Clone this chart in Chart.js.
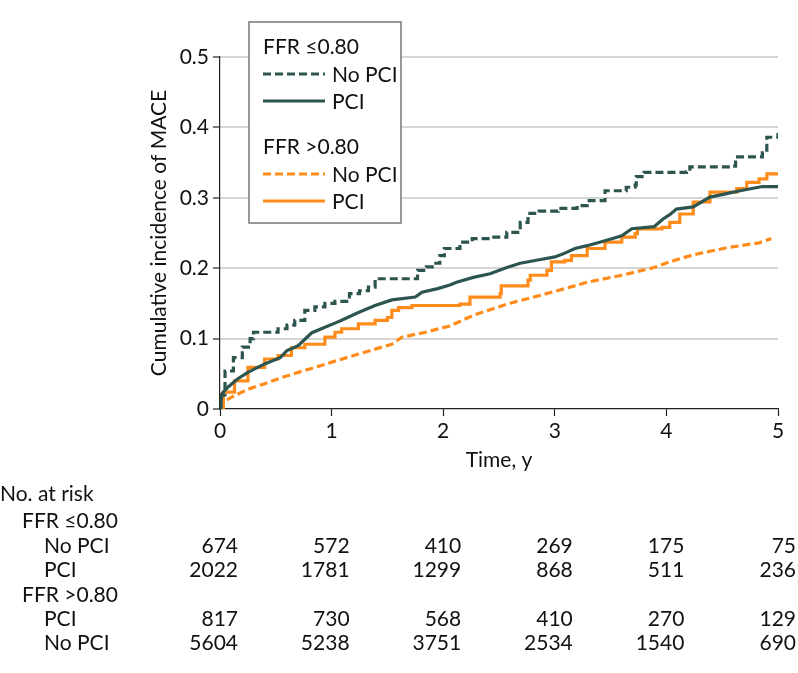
<!DOCTYPE html>
<html>
<head>
<meta charset="utf-8">
<script src="https://cdn.jsdelivr.net/npm/chart.js@4.4.1/dist/chart.umd.min.js"></script>
<style>
  body { margin: 0; background: #fff; }
  #wrap { position: relative; width: 798px; height: 673px; font-family: Lato, 'Open Sans', sans-serif; color: #111; }
  #chart { position: absolute; left: 0; top: 0; }
  .risk { position: absolute; font-size: 21px; line-height: 24px; white-space: nowrap; }
  .num { text-align: right; }
</style>
</head>
<body>
<div id="wrap">
  <canvas id="chart" width="798" height="673"></canvas>
</div>
<script>
const FONT = 'Lato, "Open Sans", sans-serif';
const FS = 21;
const GREEN = '#2d5550';
const ORANGE = '#ff8c1a';

// FFR <=0.80, no PCI
const lowNoPciT = [0, 0.01, 0.045, 0.12, 0.2, 0.27, 0.3, 0.52, 0.6, 0.67, 0.76, 0.85, 0.94, 1.03, 1.16, 1.25, 1.33, 1.39, 1.68, 1.77, 1.85, 1.92, 1.97, 2.01, 2.15, 2.26, 2.42, 2.57, 2.69, 2.76, 2.86, 3.03, 3.2, 3.29, 3.45, 3.6, 3.64, 3.72, 3.73, 3.8, 4.18, 4.21, 4.59, 4.62, 4.86, 4.9, 5.0];
const lowNoPciY = [0, 0.02, 0.054, 0.073, 0.088, 0.10, 0.109, 0.114, 0.119, 0.126, 0.14, 0.145, 0.15, 0.153, 0.164, 0.168, 0.173, 0.185, 0.185, 0.197, 0.202, 0.207, 0.218, 0.228, 0.237, 0.242, 0.244, 0.251, 0.265, 0.278, 0.281, 0.285, 0.289, 0.296, 0.31, 0.31, 0.315, 0.318, 0.33, 0.336, 0.337, 0.344, 0.345, 0.358, 0.364, 0.386, 0.392];

// FFR <=0.80, PCI
const lowPciT = [0, 0.02, 0.07, 0.16, 0.25, 0.4, 0.54, 0.6, 0.7, 0.82, 0.94, 1.03, 1.09, 1.24, 1.39, 1.54, 1.75, 1.81, 1.95, 2.06, 2.12, 2.27, 2.42, 2.57, 2.69, 2.86, 3.0, 3.07, 3.18, 3.29, 3.45, 3.6, 3.69, 3.89, 3.97, 4.03, 4.09, 4.24, 4.39, 4.54, 4.66, 4.86, 5.0];
const lowPciY = [0, 0.022, 0.031, 0.043, 0.052, 0.064, 0.073, 0.083, 0.09, 0.108, 0.116, 0.122, 0.126, 0.137, 0.147, 0.155, 0.159, 0.166, 0.171, 0.176, 0.18, 0.187, 0.192, 0.201, 0.207, 0.212, 0.216, 0.22, 0.228, 0.232, 0.239, 0.246, 0.256, 0.259, 0.27, 0.276, 0.284, 0.287, 0.301, 0.306, 0.31, 0.316, 0.316];

// FFR >0.80, PCI
const highPciT = [0, 0.03, 0.13, 0.25, 0.4, 0.52, 0.64, 0.76, 0.94, 1.03, 1.09, 1.24, 1.39, 1.5, 1.54, 1.6, 1.72, 2.15, 2.24, 2.51, 2.52, 2.76, 2.78, 2.93, 2.97, 3.09, 3.15, 3.29, 3.45, 3.6, 3.72, 3.74, 3.96, 4.03, 4.12, 4.24, 4.39, 4.63, 4.72, 4.83, 4.9, 5.0];
const highPciY = [0, 0.024, 0.04, 0.059, 0.071, 0.076, 0.087, 0.092, 0.102, 0.109, 0.114, 0.121, 0.126, 0.13, 0.14, 0.144, 0.147, 0.149, 0.159, 0.164, 0.175, 0.183, 0.19, 0.197, 0.209, 0.211, 0.218, 0.228, 0.237, 0.244, 0.249, 0.256, 0.258, 0.265, 0.277, 0.294, 0.308, 0.313, 0.322, 0.327, 0.334, 0.334];

// FFR >0.80, no PCI
const highNoPciT = [0, 0.03, 0.13, 0.25, 0.4, 0.56, 0.7, 0.85, 1.03, 1.24, 1.54, 1.63, 1.84, 2.06, 2.27, 2.57, 2.86, 3.09, 3.29, 3.6, 3.89, 4.03, 4.24, 4.54, 4.83, 4.94];
const highNoPciY = [0, 0.01, 0.019, 0.028, 0.036, 0.045, 0.052, 0.059, 0.068, 0.078, 0.092, 0.102, 0.109, 0.118, 0.133, 0.149, 0.161, 0.171, 0.18, 0.19, 0.201, 0.209, 0.219, 0.229, 0.236, 0.242];

// number at risk table
const riskYears = [0, 1, 2, 3, 4, 5];
const riskLowNoPci = [674, 572, 410, 269, 175, 75];
const riskLowPci = [2022, 1781, 1299, 868, 511, 236];
const riskHighPci = [817, 730, 568, 410, 270, 129];
const riskHighNoPci = [5604, 5238, 3751, 2534, 1540, 690];

const pts = (t, y) => t.map((v, i) => ({ x: v, y: y[i] }));

function line(label, t, y, color, dashed, stepped) {
    return {
        label: label,
        data: pts(t, y),
        borderColor: color,
        borderWidth: 3.2,
        borderDash: dashed ? [8, 4] : [],
        stepped: stepped,
        pointRadius: 0,
        fill: false
    };
}

// legend with two group headings, drawn on the canvas
const legendBox = {
    id: 'legendBox',
    afterDraw(chart) {
        const ctx = chart.ctx;
        const a = chart.chartArea;
        const x0 = a.left + 29, y0 = a.top - 35, w = 152, h = 201;
        ctx.save();
        ctx.fillStyle = '#fff';
        ctx.fillRect(x0, y0, w, h);
        ctx.strokeStyle = '#777';
        ctx.lineWidth = 1.5;
        ctx.strokeRect(x0, y0, w, h);
        ctx.font = FS + 'px ' + FONT;
        ctx.fillStyle = '#111';
        ctx.textBaseline = 'middle';
        const rows = [
            { y: 25, head: 'FFR \u22640.80' },
            { y: 52, color: GREEN, dash: [8, 4], text: 'No PCI' },
            { y: 79, color: GREEN, dash: [], text: 'PCI' },
            { y: 125, head: 'FFR >0.80' },
            { y: 152, color: ORANGE, dash: [8, 4], text: 'No PCI' },
            { y: 179, color: ORANGE, dash: [], text: 'PCI' }
        ];
        rows.forEach(r => {
            if (r.head) {
                ctx.fillText(r.head, x0 + 14, y0 + r.y);
                return;
            }
            ctx.beginPath();
            ctx.setLineDash(r.dash);
            ctx.strokeStyle = r.color;
            ctx.lineWidth = 3.2;
            ctx.moveTo(x0 + 14, y0 + r.y);
            ctx.lineTo(x0 + 76, y0 + r.y);
            ctx.stroke();
            ctx.setLineDash([]);
            ctx.fillText(r.text, x0 + 83, y0 + r.y + 1);
        });
        ctx.restore();
    }
};

const chart = new Chart(document.getElementById('chart'), {
    type: 'line',
    data: {
        datasets: [
            line('FFR \u22640.80 No PCI', lowNoPciT, lowNoPciY, GREEN, true, true),
            line('FFR \u22640.80 PCI', lowPciT, lowPciY, GREEN, false, false),
            line('FFR >0.80 No PCI', highNoPciT, highNoPciY, ORANGE, true, false),
            line('FFR >0.80 PCI', highPciT, highPciY, ORANGE, false, true)
        ]
    },
    options: {
        responsive: false,
        animation: false,
        layout: { padding: { left: 143, right: 20, top: 57, bottom: 198 } },
        plugins: { legend: { display: false }, tooltip: { enabled: false } },
        scales: {
            x: {
                type: 'linear',
                min: 0, max: 5,
                ticks: { stepSize: 1, color: '#111', font: { family: FONT, size: FS }, padding: 3 },
                grid: { drawOnChartArea: false, drawTicks: true, tickLength: 7, tickColor: '#222', tickWidth: 1.2 },
                border: { color: '#222', width: 1.2 },
                title: { display: true, text: 'Time, y', color: '#111', font: { family: FONT, size: FS }, padding: { top: 4, bottom: 2 } },
                afterFit: s => { s.height = 66; }
            },
            y: {
                min: 0, max: 0.5,
                ticks: {
                    stepSize: 0.1, color: '#111', font: { family: FONT, size: FS }, padding: 4,
                    callback: v => v === 0 ? '0' : v.toFixed(1)
                },
                grid: {
                    color: c => c.tick && c.tick.value === 0 ? 'rgba(0,0,0,0)' : '#d6d6d6',
                    lineWidth: 2, tickLength: 7, tickColor: '#222', tickWidth: 1.2
                },
                border: { color: '#222', width: 1.2 },
                title: { display: true, text: 'Cumulative incidence of MACE', color: '#111', font: { family: FONT, size: FS }, padding: { top: 4, bottom: 4 } },
                afterFit: s => { s.width = 77; }
            }
        }
    },
    plugins: [legendBox]
});

// number at risk rows, columns lined up with the x axis ticks
const wrap = document.getElementById('wrap');
const riskRows = [
    { label: 'No. at risk', indent: 0, y: 493 },
    { label: 'FFR \u22640.80', indent: 22, y: 520 },
    { label: 'No PCI', indent: 44, y: 545, vals: riskLowNoPci },
    { label: 'PCI', indent: 44, y: 569, vals: riskLowPci },
    { label: 'FFR >0.80', indent: 22, y: 594 },
    { label: 'PCI', indent: 44, y: 618, vals: riskHighPci },
    { label: 'No PCI', indent: 44, y: 642, vals: riskHighNoPci }
];
riskRows.forEach(r => {
    const d = document.createElement('div');
    d.className = 'risk';
    d.style.left = r.indent + 'px';
    d.style.top = (r.y - 12) + 'px';
    d.textContent = r.label;
    wrap.appendChild(d);
    if (!r.vals) return;
    r.vals.forEach((v, i) => {
        const n = document.createElement('div');
        n.className = 'risk num';
        const right = chart.scales.x.getPixelForValue(riskYears[i]) + 18;
        n.style.left = (right - 80) + 'px';
        n.style.width = '80px';
        n.style.top = (r.y - 12) + 'px';
        n.textContent = v;
        wrap.appendChild(n);
    });
});
</script>
</body>
</html>
